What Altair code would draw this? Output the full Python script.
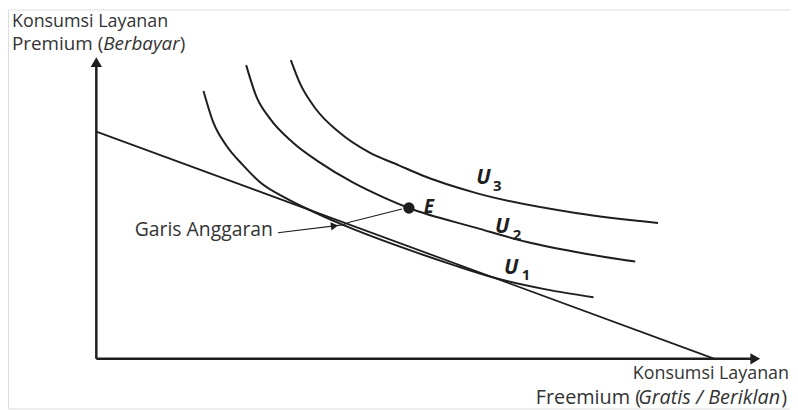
import altair as alt
import pandas as pd

# Coordinates in chart units (origin at the axes' corner)
budget_x = [0, 623]
budget_y = [229, 0]

u1_x = [108, 118, 131, 148, 165, 191, 215, 245, 323, 360, 400, 453, 501]
u1_y = [270, 238, 215, 195, 178, 162, 150, 136.5, 107, 94.5, 82, 70, 62]

u2_x = [151, 161, 175, 198, 225, 258, 291, 315, 383, 433, 493, 543]
u2_y = [296, 265, 242, 218, 198, 178, 162, 152, 132, 118, 106, 98]

u3_x = [196, 205, 221, 245, 275, 305, 328, 383, 483, 566]
u3_y = [301, 278, 252, 228, 208, 195, 185, 167, 147, 137]

point_e = (315, 152)
annot_x = [183, 248, 256, 308]
annot_y = [127, 135, 138, 151]

curve_labels = ["U", "U", "U"]
curve_subs = ["3", "2", "1"]
label_x = [390, 409, 418]
label_y = [182, 133, 91]
sub_x = [404, 424, 433]
sub_y = [174, 125, 84]

W, H = 788, 402
XDOM = [-89, W - 89]
YDOM = [352 - H, 352]
INK = "#1e1e1e"
TXT = "#333333"
FONT = "Open Sans"

xs = alt.Scale(domain=XDOM, nice=False, zero=False)
ys = alt.Scale(domain=YDOM, nice=False, zero=False)


def X(f="x"):
    return alt.X(f"{f}:Q", scale=xs, axis=None)


def Y(f="y"):
    return alt.Y(f"{f}:Q", scale=ys, axis=None)


def curve(xv, yv, name):
    df = pd.DataFrame({"x": xv, "y": yv, "c": name})
    return alt.Chart(df).mark_line(
        color=INK, strokeWidth=2, interpolate="monotone"
    ).encode(x=X(), y=Y())


axes_df = pd.DataFrame({"x": [0, 0], "y": [0, 0], "x2": [0, 662], "y2": [296, 0]})
axes = alt.Chart(axes_df).mark_rule(color=INK, strokeWidth=2.5).encode(
    x=X(), y=Y(), x2="x2:Q", y2="y2:Q"
)
arrow_up = alt.Chart(pd.DataFrame({"x": [0], "y": [299]})).mark_point(
    shape="triangle-up", filled=True, size=130, color=INK, opacity=1
).encode(x=X(), y=Y())
arrow_right = alt.Chart(pd.DataFrame({"x": [664], "y": [0]})).mark_point(
    shape="triangle-right", filled=True, size=130, color=INK, opacity=1
).encode(x=X(), y=Y())

budget = alt.Chart(pd.DataFrame({"x": budget_x, "y": budget_y})).mark_line(
    color=INK, strokeWidth=1.8
).encode(x=X(), y=Y())

annot = alt.Chart(pd.DataFrame({"x": annot_x, "y": annot_y})).mark_line(
    color=INK, strokeWidth=1.1
).encode(x=X(), y=Y())
annot_head = alt.Chart(pd.DataFrame({"x": [240], "y": [134]})).mark_point(
    shape="triangle-right", filled=True, size=70, color=INK, opacity=1, angle=353
).encode(x=X(), y=Y())

pe = alt.Chart(pd.DataFrame({"x": [point_e[0]], "y": [point_e[1]]})).mark_point(
    shape="circle", filled=True, size=130, color=INK, opacity=1
).encode(x=X(), y=Y())


def texts(rows, **kw):
    df = pd.DataFrame(rows, columns=["x", "y", "t"])
    base = dict(font=FONT, color=TXT, baseline="middle")
    base.update(kw)
    return alt.Chart(df).mark_text(**base).encode(x=X(), y=Y(), text="t:N")


t_top1 = texts([(-85, 339, "Konsumsi Layanan")], align="left", fontSize=18)
t_top_norm = texts([(-85, 317, "Premium (")], align="left", fontSize=19)
t_top_it = texts([(7, 317, "Berbayar")], align="left", fontSize=19, fontStyle="italic")
t_top_close = texts([(84, 317, ")")], align="left", fontSize=19)

t_bot1 = texts([(698, -15, "Konsumsi Layanan")], align="right", fontSize=18)
t_bot_norm = texts([(549, -39, "Freemium (")], align="right", fontSize=20)
t_bot_it = texts([(689, -39, "Gratis / Beriklan")], align="right", fontSize=20,
                 fontStyle="italic")
t_bot_close = texts([(696, -39, ")")], align="right", fontSize=20)

t_garis = texts([(178, 130, "Garis Anggaran")], align="right", fontSize=19.5)

t_e = texts([(335, 153, "E")], align="center", fontSize=19, fontStyle="italic",
            fontWeight="bold", color=INK)
t_u = texts(list(zip(label_x, label_y, curve_labels)), align="center", fontSize=21,
            fontStyle="italic", fontWeight="bold", color=INK)
t_sub = texts(list(zip(sub_x, sub_y, curve_subs)), align="center", fontSize=15,
              fontWeight="bold", color=INK)

chart = alt.layer(
    axes, arrow_up, arrow_right, budget,
    curve(u1_x, u1_y, "U1"), curve(u2_x, u2_y, "U2"), curve(u3_x, u3_y, "U3"),
    annot, annot_head, pe,
    t_top1, t_top_norm, t_top_it, t_top_close, t_bot1, t_bot_norm, t_bot_it,
    t_bot_close, t_garis, t_e, t_u, t_sub,
).properties(
    width=W, height=H,
    autosize=alt.AutoSizeParams(type="none"),
    padding={"left": 0, "right": 0, "top": 0, "bottom": 0},
).configure_view(strokeWidth=0, stroke="transparent").configure(background="white")

chart.save("out.html", embed_options={"renderer": "svg", "actions": False})
